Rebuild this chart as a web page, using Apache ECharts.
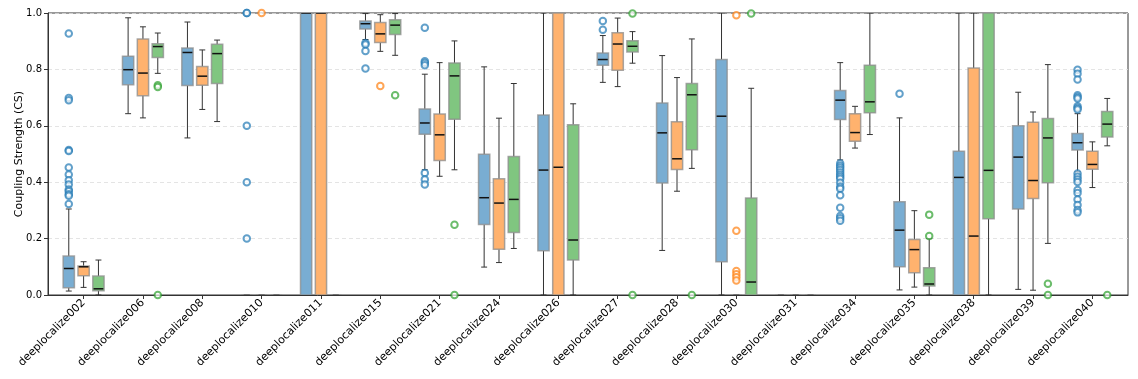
<!DOCTYPE html>
<html><head><meta charset="utf-8">
<script src="https://cdn.jsdelivr.net/npm/echarts@6/dist/echarts.min.js"></script>
<style>html,body{margin:0;padding:0;background:#fff}#c{width:1138px;height:379px}</style>
</head><body><div id="c"></div>
<script>
const categories = ["deeplocalize002","deeplocalize006","deeplocalize008","deeplocalize010","deeplocalize011","deeplocalize015","deeplocalize021","deeplocalize024","deeplocalize026","deeplocalize027","deeplocalize028","deeplocalize030","deeplocalize031","deeplocalize034","deeplocalize035","deeplocalize038","deeplocalize039","deeplocalize040"];
const yTicks = [0, 0.2, 0.4, 0.6, 0.8, 1.0];
// [min, q1, median, q3, max]
const blueStats = [
 [0.014,0.026,0.094,0.138,0.305],[0.643,0.746,0.799,0.847,0.983],[0.557,0.743,0.860,0.876,0.968],[0,0,0,0,0],
 [0,0,1,1,1],[0.906,0.943,0.962,0.972,0.998],[0.444,0.570,0.610,0.660,0.783],[0.099,0.250,0.345,0.499,0.809],
 [0,0.157,0.443,0.638,1.0],[0.754,0.815,0.835,0.858,0.920],[0.158,0.397,0.575,0.681,0.849],[0,0.118,0.634,0.835,1.0],
 [0,0,0,0,0],[0.479,0.622,0.691,0.725,0.824],[0.018,0.100,0.230,0.331,0.628],[0,0,0.417,0.510,1.0],
 [0.020,0.305,0.489,0.600,0.719],[0.437,0.514,0.540,0.573,0.643]
];
const orangeStats = [
 [0.027,0.068,0.100,0.103,0.118],[0.628,0.707,0.787,0.908,0.951],[0.658,0.744,0.776,0.810,0.869],[0,0,0,0,0],
 [0,0,1,1,1],[0.864,0.895,0.926,0.966,0.994],[0.421,0.477,0.568,0.642,0.824],[0.115,0.162,0.326,0.412,0.627],
 [0,0,0.453,1,1],[0.739,0.797,0.890,0.930,0.982],[0.368,0.445,0.483,0.614,0.771],[0,0,0,0,0],
 [0,0,0,0,0],[0.521,0.545,0.576,0.643,0.669],[0.028,0.079,0.161,0.197,0.299],[0,0,0.209,0.805,1],
 [0.017,0.342,0.406,0.613,0.649],[0.381,0.446,0.463,0.510,0.543]
];
const greenStats = [
 [0,0.015,0.022,0.067,0.124],[0.786,0.842,0.881,0.891,0.929],[0.615,0.750,0.856,0.889,0.904],[0,0,0,0,0],
 [0,0,0,0,0],[0.850,0.924,0.957,0.976,0.998],[0.444,0.623,0.777,0.823,0.901],[0.165,0.222,0.339,0.491,0.750],
 [0,0.124,0.195,0.604,0.678],[0.822,0.862,0.882,0.902,0.934],[0.449,0.515,0.710,0.750,0.908],[0,0,0.046,0.344,0.733],
 [0,0,0,0,0],[0.569,0.646,0.685,0.815,1.0],[0,0.032,0.039,0.097,0.200],[0,0.270,0.442,1,1],
 [0.183,0.398,0.557,0.626,0.817],[0.529,0.560,0.606,0.651,0.697]
];
// [categoryIndex, value]
const blueOutliers = [
 [0,0.927],[0,0.699],[0,0.691],[0,0.514],[0,0.511],[0,0.452],[0,0.427],[0,0.407],[0,0.392],[0,0.374],[0,0.368],[0,0.357],[0,0.352],[0,0.323],
 [3,1.0],[3,1.0],[3,0.6],[3,0.4],[3,0.2],
 [5,0.894],[5,0.888],[5,0.865],[5,0.803],
 [6,0.948],[6,0.829],[6,0.823],[6,0.815],[6,0.433],[6,0.410],[6,0.392],
 [9,0.972],[9,0.941],
 [13,0.466],[13,0.458],[13,0.451],[13,0.443],[13,0.434],[13,0.426],[13,0.419],[13,0.412],[13,0.398],[13,0.384],[13,0.377],[13,0.354],[13,0.309],[13,0.280],[13,0.272],[13,0.263],
 [14,0.714],
 [17,0.799],[17,0.785],[17,0.764],[17,0.708],[17,0.702],[17,0.697],[17,0.669],[17,0.663],[17,0.658],[17,0.431],[17,0.419],[17,0.410],[17,0.401],[17,0.372],[17,0.362],[17,0.339],[17,0.319],[17,0.301],[17,0.293]
];
const orangeOutliers = [
 [3,1.0],[5,0.741],[11,0.992],[11,0.228],[11,0.085],[11,0.074],[11,0.063],[11,0.051]
];
const greenOutliers = [
 [1,0.744],[1,0.738],[1,0.0],[5,0.708],[6,0.249],[6,0.0],[9,0.998],[9,0.0],[10,0.0],[11,0.998],[14,0.285],[14,0.209],[16,0.040],[16,0.0],[17,0.0]
];

const groups = [
 {name:'blue', stats: blueStats, outliers: blueOutliers, offset:-0.25, fill:'#79add2', edge:'#1f77b4'},
 {name:'orange', stats: orangeStats, outliers: orangeOutliers, offset:0, fill:'#ffb26e', edge:'#ff7f0e'},
 {name:'green', stats: greenStats, outliers: greenOutliers, offset:0.25, fill:'#80c680', edge:'#2ca02c'}
];

function makeRender(offset, fill){
  return function(params, api){
    const ci = api.value(0);
    const x = ci + offset;
    const vals = [1,2,3,4,5].map(i => api.value(i));
    const pts = vals.map(v => api.coord([x, v]));
    const cx = pts[0][0];
    const left = api.coord([x - 0.095, 0])[0], right = api.coord([x + 0.095, 0])[0];
    const cl = api.coord([x - 0.05, 0])[0], cr = api.coord([x + 0.05, 0])[0];
    const yMin = pts[0][1], yQ1 = pts[1][1], yMed = pts[2][1], yQ3 = pts[3][1], yMax = pts[4][1];
    const wStyle = {stroke:'#333', lineWidth:1};
    const children = [
      {type:'line', shape:{x1:cx,y1:yQ3,x2:cx,y2:yMax}, style:wStyle},
      {type:'line', shape:{x1:cx,y1:yQ1,x2:cx,y2:yMin}, style:wStyle},
      {type:'line', shape:{x1:cl,y1:yMax,x2:cr,y2:yMax}, style:wStyle},
      {type:'line', shape:{x1:cl,y1:yMin,x2:cr,y2:yMin}, style:wStyle},
      {type:'rect', shape:{x:left,y:yQ3,width:right-left,height:yQ1-yQ3}, style:{fill:fill, stroke:'rgba(140,140,140,0.75)', lineWidth:1.5}}
    ];
    if (vals[3] > vals[1]) {
      children.push({type:'line', shape:{x1:left+0.75,y1:yMed,x2:right-0.75,y2:yMed}, style:{stroke:'#111', lineWidth:1.5}});
    }
    return {type:'group', children};
  };
}

const series = [];
groups.forEach(g => {
  series.push({
    type:'custom', name:g.name, renderItem: makeRender(g.offset, g.fill), clip:true,
    data: g.stats.map((s,i) => [i].concat(s)),
    encode:{x:0, y:[1,2,3,4,5]}, z:2
  });
});
groups.forEach(g => {
  series.push({
    type:'scatter', name:g.name+' outliers', symbol:'emptyCircle', symbolSize:6.5,
    data: g.outliers.map(o => [o[0] + g.offset, o[1]]),
    itemStyle:{color:g.edge, borderColor:g.edge, borderWidth:1, opacity:0.7}, clip:false, z:3
  });
});

const chart = echarts.init(document.getElementById('c'), null, {renderer:'canvas'});
chart.setOption({
  animation:false,
  grid:{left:48, right:10, top:13, bottom:84, outerBoundsMode:'none', containLabel:false, show:true, borderColor:'#333', borderWidth:1, backgroundColor:'transparent'},
  xAxis:{
    type:'value', min:-0.6, max:17.6,
    axisLine:{show:true, onZero:false, lineStyle:{color:'#333'}},
    axisTick:{show:true, customValues: categories.map((c,i)=>i), length:4, lineStyle:{color:'#333'}},
    axisLabel:{customValues: categories.map((c,i)=>i), rotate:45, formatter: v => categories[Math.round(v)], fontFamily:'DejaVu Sans', fontSize:11, color:'#000', margin:6},
    splitLine:{show:false}
  },
  yAxis:{
    type:'value', min:0, max:1, interval:0.2,
    name:'Coupling Strength (CS)', nameLocation:'middle', nameGap:23, nameMoveOverlap:false,
    nameTextStyle:{fontFamily:'DejaVu Sans', fontSize:11, color:'#000'},
    axisLine:{show:true, onZero:false, lineStyle:{color:'#333'}},
    axisTick:{show:true, length:4, lineStyle:{color:'#333'}},
    axisLabel:{formatter: v => v.toFixed(1), fontFamily:'DejaVu Sans', fontSize:10, color:'#000', margin:6},
    splitLine:{show:true, lineStyle:{color:'#ddd', type:[4,3], width:0.8}}
  },
  series
});
</script></body></html>
